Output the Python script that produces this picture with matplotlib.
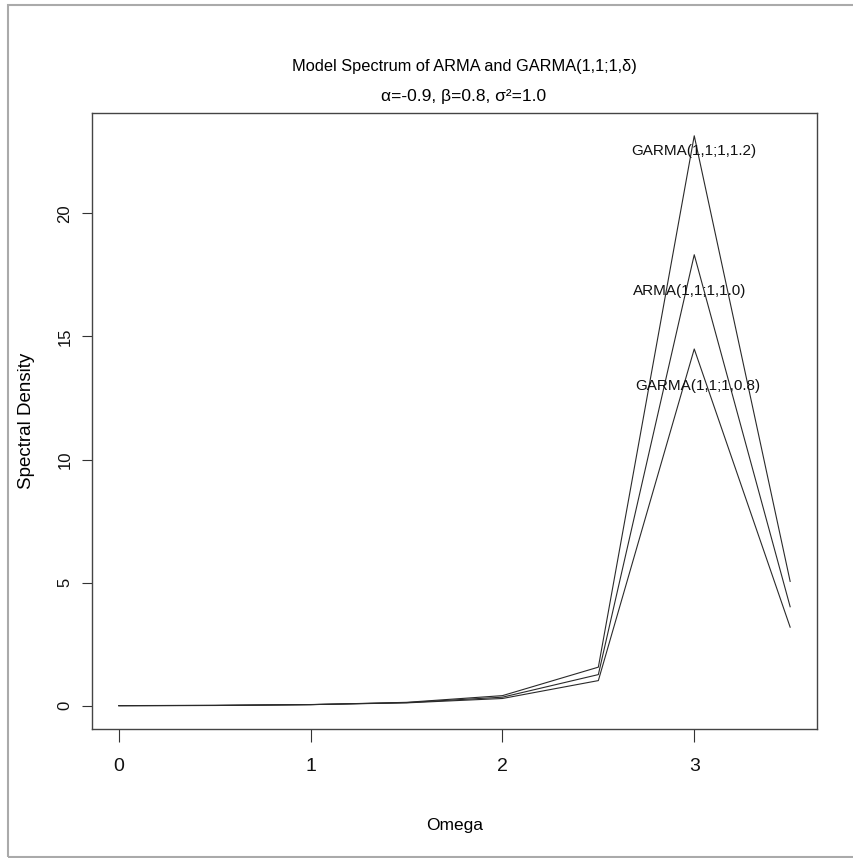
import numpy as np
import matplotlib
matplotlib.use('Agg')
import matplotlib.pyplot as plt
from matplotlib import font_manager
from matplotlib.patches import Rectangle

# frequencies and spectral density values
omega = [0.0, 0.5, 1.0, 1.5, 2.0, 2.5, 3.0, 3.5]
garma_12 = [0.0009, 0.0083, 0.042, 0.137, 0.409, 1.566, 23.15, 5.05]
arma_10 = [0.0018, 0.0111, 0.044, 0.125, 0.346, 1.264, 18.32, 4.02]
garma_08 = [0.0034, 0.0148, 0.047, 0.115, 0.293, 1.020, 14.49, 3.19]

labels = ['GARMA(1,1;1,1.2)', 'ARMA(1,1;1,1.0)', 'GARMA(1,1;1,0.8)']
label_x = [3.0, 2.975, 3.02]
label_y = [22.55, 16.85, 12.98]

# narrow font looks closer to the R output, if there is one
names = {f.name for f in font_manager.fontManager.ttflist}
narrow = 'Liberation Sans Narrow' if 'Liberation Sans Narrow' in names else 'Liberation Sans'
plt.rcParams['font.family'] = [narrow, 'DejaVu Sans']

fig = plt.figure(figsize=(8.54, 8.58), dpi=100)
ax = fig.add_axes([92/854, 1 - 728.5/858, (817 - 92)/854, (728.5 - 113)/858])

for ys in (garma_12, arma_10, garma_08):
    ax.plot(omega, ys, color='#2a2a2a', lw=0.8)

for x, y, t in zip(label_x, label_y, labels):
    ax.text(x, y, t, ha='center', va='center', fontsize=11, color='#111111')

# R style axis ranges (4% padding)
ymax = max(garma_12)
ax.set_xlim(-0.04 * 3.5, 3.5 * 1.04)
ax.set_ylim(-0.04 * ymax, ymax * 1.04)
ax.set_xticks([0, 1, 2, 3])
ax.set_yticks([0, 5, 10, 15, 20])
ax.tick_params(axis='x', length=9.5, width=0.8, pad=12, labelsize=14, colors='#333333', labelcolor='#111111')
ax.tick_params(axis='y', length=7, width=0.8, pad=7, labelsize=12, colors='#333333', labelcolor='#111111')
for lab in ax.get_yticklabels():
    lab.set_rotation(90)
    lab.set_va('center')
for s in ax.spines.values():
    s.set_color('#444444')
    s.set_linewidth(1.0)

ax.set_xlabel('Omega', fontsize=12.5)
ax.xaxis.set_label_coords((455 - 92) / (817 - 92), -(818 - 728.5) / (728.5 - 113))
ax.set_ylabel('Spectral Density', fontsize=13.5)
ax.yaxis.set_label_coords(-(92 - 35) / (817 - 92), 0.5)

fig.text(464/854, 1 - 66/858, 'Model Spectrum of ARMA and GARMA(1,1;1,δ)',
         ha='center', va='center', fontsize=11.8)
fig.text(464/854, 1 - 97/858, 'α=-0.9, β=0.8, σ²=1.0',
         ha='center', va='center', fontsize=12.5)

# grey outer frame
fig.patches.append(Rectangle((8/854, 1/858), 1.2, 852/858, transform=fig.transFigure,
                             fill=False, edgecolor='#aaaaaa', lw=1.5))

fig.savefig('out.png', dpi=100, facecolor='white')
